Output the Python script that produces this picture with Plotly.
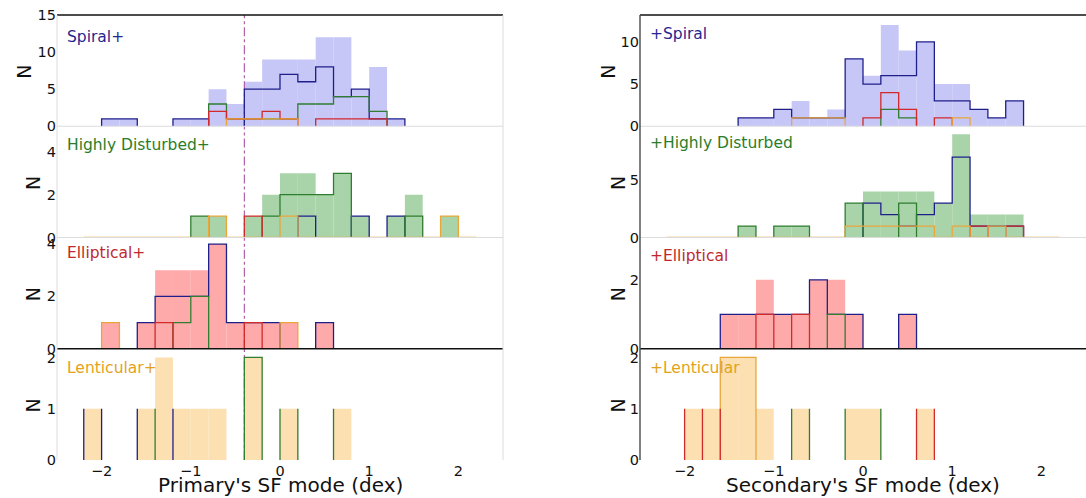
import plotly.graph_objects as go

N = None

# Histogram binning (0.2 dex bins)
BIN_EDGES = [-2.2, -2.0, -1.8, -1.6, -1.4, -1.2, -1.0, -0.8, -0.6, -0.4, -0.2, 0.0,
             0.2, 0.4, 0.6, 0.8, 1.0, 1.2, 1.4, 1.6, 1.8, 2.0, 2.2]
BIN_CENTERS = [-2.1, -1.9, -1.7, -1.5, -1.3, -1.1, -0.9, -0.7, -0.5, -0.3, -0.1,
               0.1, 0.3, 0.5, 0.7, 0.9, 1.1, 1.3, 1.5, 1.7, 1.9, 2.1]
X_TICKS = [-2, -1, 0, 1, 2]
SF_DIVIDE = -0.4

# Total counts per bin, primary galaxy type (left column)
PRI_SPIRAL = [0, 1, 1, 0, 0, 1, 1, 5, 3, 6, 9, 9, 9, 12, 12, 5, 8, 1, 0, 0, 0, 0]
PRI_HD = [0, 0, 0, 0, 0, 0, 1, 1, 0, 1, 2, 3, 3, 2, 3, 1, 0, 1, 2, 0, 1, 0]
PRI_ELL = [0, 1, 0, 1, 3, 3, 3, 4, 1, 1, 1, 1, 0, 1, 0, 0, 0, 0, 0, 0, 0, 0]
PRI_LEN = [1, 0, 0, 1, 2, 1, 1, 1, 0, 2, 0, 1, 0, 0, 1, 0, 0, 0, 0, 0, 0, 0]

# Total counts per bin, secondary galaxy type (right column)
SEC_SPIRAL = [0, 0, 0, 0, 1, 1, 2, 3, 1, 2, 8, 6, 12, 9, 10, 5, 5, 2, 1, 3, 0, 0]
SEC_HD = [0, 0, 0, 0, 1, 0, 1, 1, 0, 0, 3, 4, 4, 4, 4, 3, 9, 2, 2, 2, 0, 0]
SEC_ELL = [0, 0, 0, 1, 1, 2, 1, 1, 2, 2, 1, 0, 0, 1, 0, 0, 0, 0, 0, 0, 0, 0]
SEC_LEN = [0, 1, 1, 2, 2, 1, 0, 1, 0, 0, 1, 1, 0, 0, 1, 0, 0, 0, 0, 0, 0, 0]

# Stacked step outlines by companion type (levels per bin, None = not drawn)
PRI_SPIRAL_BLUE = [N, 1, 1, N, N, 1, 1, N, N, 5, 5, 7, 6, 8, 4, 5, 1, 1, N, N, N, N]
PRI_SPIRAL_GREEN = [N, N, N, N, N, N, N, 3, 1, 1, 1, 1, 3, 3, 4, 4, 2, N, N, N, N, N]
PRI_SPIRAL_RED = [N, N, N, N, N, N, N, 2, 1, 1, 2, 1, N, 1, 1, 1, 1, N, N, N, N, N]
PRI_SPIRAL_ORANGE = [N, N, N, N, N, N, N, N, 1, 1, 1, 1, N, N, N, N, N, N, N, N, N, N]

PRI_HD_BLUE = [N, N, N, N, N, N, N, N, N, N, N, N, 1, N, N, 1, N, 1, N, N, N, N]
PRI_HD_GREEN = [N, N, N, N, N, N, 1, N, N, N, 1, 2, 2, 2, 3, N, N, N, 1, N, N, N]
PRI_HD_RED = [N, N, N, N, N, N, N, N, N, 1, N, N, N, N, N, N, N, N, N, N, N, N]
PRI_HD_ORANGE = [0, 0, 0, 0, 0, 0, 0, 1, 0, 0, 0, 1, 0, 0, 0, 0, 0, 0, 0, 0, 1, 0]

PRI_ELL_BLUE = [N, N, N, 1, 2, 2, 2, 4, 1, 1, 1, N, N, 1, N, N, N, N, N, N, N, N]
PRI_ELL_GREEN = [N, N, N, N, N, 1, 2, N, N, N, N, N, N, N, N, N, N, N, N, N, N, N]
PRI_ELL_RED = [N, N, N, N, 1, N, N, N, N, 1, N, N, N, N, N, N, N, N, N, N, N, N]
PRI_ELL_ORANGE = [N, 1, N, N, N, N, N, N, N, N, N, 1, N, N, N, N, N, N, N, N, N, N]

PRI_LEN_GREEN = [N, N, N, N, N, N, N, N, N, 2, N, N, N, N, N, N, N, N, N, N, N, N]
# bar-edge strokes (height per bin edge)
PRI_LEN_BLUE_EDGES = [1, 1, N, 1, N, 1, N, N, N, N, N, N, N, N, N, N, N, N, N, N, N, N, N]
PRI_LEN_GREEN_EDGES = [N, N, N, N, 1, N, N, N, N, N, N, 1, 1, N, 1, N, N, N, N, N, N, N, N]

SEC_SPIRAL_BLUE = [N, N, N, N, 1, 1, 2, 1, 1, 1, 8, 5, 6, 6, 10, 3, 3, 2, 1, 3, N, N]
SEC_SPIRAL_GREEN = [N, N, N, N, N, N, N, N, N, N, N, N, 2, 1, N, N, N, N, N, N, N, N]
SEC_SPIRAL_RED = [N, N, N, N, N, N, N, N, N, N, N, 1, 4, 2, N, 1, N, N, N, N, N, N]
SEC_SPIRAL_ORANGE = [N, N, N, N, N, N, N, 1, 1, 1, N, N, N, N, N, N, 1, N, N, N, N, N]

SEC_HD_BLUE = [N, N, N, N, N, N, N, N, N, N, N, 3, 2, 1, 2, 3, 7, 1, 1, 1, N, N]
SEC_HD_GREEN = [N, N, N, N, 1, N, 1, 1, N, N, 3, N, N, 3, N, N, N, N, N, N, N, N]
SEC_HD_RED = [N, N, N, N, N, N, N, N, N, N, N, N, N, N, N, N, N, 1, N, 1, N, N]
SEC_HD_ORANGE = [0, 0, 0, 0, 0, 0, 0, 0, 0, 0, 1, 1, 1, 1, 1, 0, 1, 0, 1, 0, 0, 0]

SEC_ELL_BLUE = [N, N, N, 1, 1, 1, 1, 1, 2, 1, 1, N, N, 1, N, N, N, N, N, N, N, N]
SEC_ELL_GREEN = [N, N, N, N, N, N, N, N, N, 1, N, N, N, N, N, N, N, N, N, N, N, N]
SEC_ELL_RED = [N, N, N, N, N, 1, N, 1, N, N, N, N, N, N, N, N, N, N, N, N, N, N]

SEC_LEN_ORANGE = [N, N, N, 2, 2, N, N, N, N, N, N, N, N, N, N, N, N, N, N, N, N, N]
SEC_LEN_RED_EDGES = [N, 1, 1, 1, N, N, N, N, N, N, N, N, N, N, 1, 1, N, N, N, N, N, N, N]
SEC_LEN_GREEN_EDGES = [N, N, N, N, N, N, N, 1, 1, N, 1, N, 1, N, N, N, N, N, N, N, N, N, N]

# Colours
C_BLUE, C_GREEN, C_RED, C_ORANGE = "#1f1f8a", "#2f7d2f", "#d02a2a", "#eaa53a"
T_BLUE, T_GREEN, T_RED, T_ORANGE = "#26268f", "#2a7d2a", "#c0282d", "#e3a21a"
F_BLUE, F_GREEN, F_RED, F_ORANGE = "#c6c6f7", "#a9d4a9", "#ffaaaa", "#fde0b1"

W, H = 1086, 498
COL_PX = {1: (57, 503), 2: (640, 1086)}
ROW_PX = [(15, 126.25), (126.25, 237.5), (237.5, 348.75), (348.75, 460)]
CAPTION_Y = {1: [37, 145, 253, 368], 2: [34, 143, 256, 368]}

PANELS = [
    # col, row, totals, fill, y top, y ticks, caption, caption colour, outlines
    (1, 1, PRI_SPIRAL, F_BLUE, 15, [0, 5, 10, 15], "Spiral+", T_BLUE,
     [("step", C_BLUE, PRI_SPIRAL_BLUE), ("step", C_GREEN, PRI_SPIRAL_GREEN),
      ("step", C_RED, PRI_SPIRAL_RED), ("step", C_ORANGE, PRI_SPIRAL_ORANGE)]),
    (1, 2, PRI_HD, F_GREEN, 5.2, [0, 2, 4], "Highly Disturbed+", T_GREEN,
     [("step", C_BLUE, PRI_HD_BLUE), ("step", C_GREEN, PRI_HD_GREEN),
      ("step", C_RED, PRI_HD_RED), ("step", C_ORANGE, PRI_HD_ORANGE)]),
    (1, 3, PRI_ELL, F_RED, 4.25, [0, 2, 4], "Elliptical+", T_RED,
     [("step", C_BLUE, PRI_ELL_BLUE), ("step", C_GREEN, PRI_ELL_GREEN),
      ("step", C_RED, PRI_ELL_RED), ("step", C_ORANGE, PRI_ELL_ORANGE)]),
    (1, 4, PRI_LEN, F_ORANGE, 2.17, [0, 1, 2], "Lenticular+", T_ORANGE,
     [("edge", C_BLUE, PRI_LEN_BLUE_EDGES), ("edge", C_GREEN, PRI_LEN_GREEN_EDGES),
      ("step", C_GREEN, PRI_LEN_GREEN)]),
    (2, 1, SEC_SPIRAL, F_BLUE, 13.2, [0, 5, 10], "+Spiral", T_BLUE,
     [("step", C_BLUE, SEC_SPIRAL_BLUE), ("step", C_GREEN, SEC_SPIRAL_GREEN),
      ("step", C_RED, SEC_SPIRAL_RED), ("step", C_ORANGE, SEC_SPIRAL_ORANGE)]),
    (2, 2, SEC_HD, F_GREEN, 9.7, [0, 5], "+Highly Disturbed", T_GREEN,
     [("step", C_BLUE, SEC_HD_BLUE), ("step", C_GREEN, SEC_HD_GREEN),
      ("step", C_RED, SEC_HD_RED), ("step", C_ORANGE, SEC_HD_ORANGE)]),
    (2, 3, SEC_ELL, F_RED, 3.23, [0, 2], "+Elliptical", T_RED,
     [("step", C_BLUE, SEC_ELL_BLUE), ("step", C_GREEN, SEC_ELL_GREEN),
      ("step", C_RED, SEC_ELL_RED)]),
    (2, 4, SEC_LEN, F_ORANGE, 2.17, [0, 1, 2], "+Lenticular", T_ORANGE,
     [("step", C_ORANGE, SEC_LEN_ORANGE), ("edge", C_RED, SEC_LEN_RED_EDGES),
      ("edge", C_GREEN, SEC_LEN_GREEN_EDGES)]),
]


def step_xy(levels):
    """Histogram step outline for every run of drawn bins."""
    xs, ys = [], []
    i, n = 0, len(levels)
    while i < n:
        if levels[i] is None:
            i += 1
            continue
        j = i
        xs.append(BIN_EDGES[i]); ys.append(0)
        while j < n and levels[j] is not None:
            xs += [BIN_EDGES[j], BIN_EDGES[j + 1]]
            ys += [levels[j], levels[j]]
            j += 1
        xs.append(BIN_EDGES[j]); ys.append(0)
        xs.append(None); ys.append(None)
        i = j
    return xs, ys


def edge_xy(heights):
    """Vertical bar-edge strokes rising from zero."""
    xs, ys = [], []
    for k, h in enumerate(heights):
        if h is not None:
            xs += [BIN_EDGES[k], BIN_EDGES[k], None]
            ys += [0, h, None]
    return xs, ys


def px_x(v):
    return v / W


def px_y(v):
    return 1 - v / H


fig = go.Figure()
layout = {}
annotations = []
shapes = []
FONT = "DejaVu Sans"
TICK_FONT = dict(family=FONT, size=14.5, color="#111111")

for col, row, totals, fill, ytop, yticks, label, lcol, lines in PANELS:
    p = (col - 1) * 4 + row
    xname = "x" if p == 1 else f"x{p}"
    yname = "y" if p == 1 else f"y{p}"
    x0, x1 = COL_PX[col]
    ya, yb = ROW_PX[row - 1]

    fig.add_trace(go.Bar(x=BIN_CENTERS, y=totals, width=0.2, marker_color=fill,
                         marker_line_width=0, xaxis=xname, yaxis=yname,
                         hoverinfo="skip"))
    if col == 1:
        fig.add_trace(go.Scatter(x=[SF_DIVIDE, SF_DIVIDE], y=[0, ytop], mode="lines",
                                 line=dict(color="#a2409a", width=1, dash="dashdot"),
                                 xaxis=xname, yaxis=yname, hoverinfo="skip"))
    for kind, color, vals in lines:
        xs, ys = step_xy(vals) if kind == "step" else edge_xy(vals)
        fig.add_trace(go.Scatter(x=xs, y=ys, mode="lines",
                                 line=dict(color=color, width=1.3),
                                 connectgaps=False, xaxis=xname, yaxis=yname,
                                 hoverinfo="skip"))

    layout["xaxis" if p == 1 else f"xaxis{p}"] = dict(
        domain=[px_x(x0), px_x(x1)], range=[-2.5, 2.5], anchor=yname,
        automargin=False, showgrid=False, zeroline=False, showline=False, ticks="",
        tickvals=X_TICKS, ticktext=["\u22122", "\u22121", "0", "1", "2"],
        showticklabels=(row == 4), tickfont=TICK_FONT)
    layout["yaxis" if p == 1 else f"yaxis{p}"] = dict(
        domain=[px_y(yb), px_y(ya)], range=[0, ytop], anchor=xname,
        automargin=False, showgrid=False, zeroline=False, showline=False, ticks="",
        tickvals=yticks, tickfont=TICK_FONT)

    # panel caption
    annotations.append(dict(text=label, x=px_x(x0 + 8), y=px_y(CAPTION_Y[col][row - 1]),
                            xref="paper", yref="paper", xanchor="left", yanchor="middle",
                            showarrow=False, font=dict(family=FONT, size=15.5, color=lcol)))
    # y-axis label
    nx = (24 if row == 1 else 33) if col == 1 else (608 if row == 1 else 618)
    annotations.append(dict(text="N", x=px_x(nx), y=px_y((ya + yb) / 2 + 1),
                            xref="paper", yref="paper", xanchor="center", yanchor="middle",
                            textangle=-90, showarrow=False,
                            font=dict(family=FONT, size=19, color="#111111")))

# x-axis titles
annotations.append(dict(text="Primary's SF mode (dex)", x=px_x(280), y=px_y(485),
                        xref="paper", yref="paper", xanchor="center", yanchor="middle",
                        showarrow=False, font=dict(family=FONT, size=20, color="#111111")))
annotations.append(dict(text="Secondary's SF mode (dex)", x=px_x(863), y=px_y(485),
                        xref="paper", yref="paper", xanchor="center", yanchor="middle",
                        showarrow=False, font=dict(family=FONT, size=20, color="#111111")))


def hline(x0, x1, y, color, width=1):
    shapes.append(dict(type="line", xref="paper", yref="paper",
                       x0=px_x(x0), x1=px_x(x1), y0=px_y(y), y1=px_y(y),
                       line=dict(color=color, width=width)))


def vline(x, y0, y1, color, width=1):
    shapes.append(dict(type="line", xref="paper", yref="paper",
                       x0=px_x(x), x1=px_x(x), y0=px_y(y0), y1=px_y(y1),
                       line=dict(color=color, width=width)))


LIGHT = "#dcdcdc"
for col in (1, 2):
    x0, x1 = COL_PX[col]
    hline(x0, x1, 15, "#111111", 1.3)
    hline(x0, x1, 126.25, LIGHT)
    hline(x0, x1, 237.5, LIGHT)
    hline(x0, x1, 348.75, "#111111", 1.3)
vline(57, 15, 460, LIGHT)
vline(503, 15, 460, LIGHT)
vline(640, 15, 460, "#555555", 1.5)

layout.update(dict(width=W, height=H, margin=dict(l=0, r=0, t=0, b=0, autoexpand=False),
                   paper_bgcolor="white", plot_bgcolor="white", showlegend=False,
                   barmode="overlay", font=dict(family=FONT),
                   annotations=annotations, shapes=shapes))
fig.update_layout(**layout)
fig.write_html("out.html")
